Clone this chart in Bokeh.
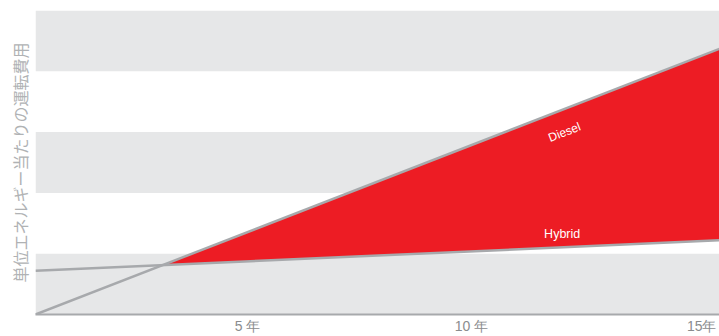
from bokeh.plotting import figure
from bokeh.models import FixedTicker, Range1d
from bokeh.core.properties import value
from bokeh.embed import file_html
from bokeh.resources import INLINE
import math

# operating cost per unit of energy over years of service
years = [0, 15]
diesel_cost = [0.0, 4.37]
hybrid_cost = [0.72, 1.22]

# alternating background bands
band_bottom = [0, 2, 4]
band_top = [1, 3, 5]

tick_years = [5, 10, 15]
tick_labels = ["5 年", "10 年", "15年"]

W, H = 719, 336
LEFT, TOP, BOTTOM = 35, 10, 22
X_MAX, Y_MAX = 15, 5

p = figure(width=W, height=H, output_backend="svg", toolbar_location=None,
           x_range=Range1d(0, X_MAX), y_range=Range1d(0, Y_MAX),
           min_border_left=LEFT, min_border_right=0, min_border_top=TOP,
           min_border_bottom=BOTTOM)
p.outline_line_color = None
p.xgrid.visible = False
p.ygrid.visible = False
p.background_fill_color = "white"

p.quad(left=0, right=X_MAX, bottom=band_bottom, top=band_top,
       fill_color="#e6e7e8", line_color=None)

# shaded gap where diesel costs exceed hybrid
d_slope = (diesel_cost[1] - diesel_cost[0]) / (years[1] - years[0])
h_slope = (hybrid_cost[1] - hybrid_cost[0]) / (years[1] - years[0])
x_cross = (hybrid_cost[0] - diesel_cost[0]) / (d_slope - h_slope)
y_cross = diesel_cost[0] + d_slope * x_cross
p.varea(x=[x_cross, years[1]], y1=[y_cross, hybrid_cost[1]], y2=[y_cross, diesel_cost[1]],
        fill_color="#ed1c24")

p.line(years, hybrid_cost, line_color="#a7a9ac", line_width=2.5)
p.line(years, diesel_cost, line_color="#a7a9ac", line_width=2.5)

# line labels
px_per_x = (W - LEFT) / X_MAX
px_per_y = (H - TOP - BOTTOM) / Y_MAX
ang = math.atan(d_slope * px_per_y / px_per_x)
lx = 11.6
p.text(x=[lx], y=[d_slope * lx - 0.38], text=["Diesel"], angle=ang,
       text_color="white", text_font=value("Liberation Sans"), text_font_size="12px",
       text_align="center", text_baseline="middle")
p.text(x=[11.55], y=[hybrid_cost[0] + h_slope * 11.55 + 0.22], text=["Hybrid"],
       text_color="white", text_font=value("Liberation Sans"), text_font_size="12.5px",
       text_align="center", text_baseline="middle")

# year labels end at their tick: shift each centred label left by half its width
label_shift_px = [16, 20, 18]
tick_pos = [round(t - s / px_per_x, 2) for t, s in zip(tick_years, label_shift_px)]

xa = p.xaxis[0]
xa.ticker = FixedTicker(ticks=tick_pos)
xa.major_label_overrides = {t: l for t, l in zip(tick_pos, tick_labels)}
xa.major_label_text_font = "Liberation Sans"
xa.major_label_text_font_size = "14px"
xa.major_label_text_color = "#8a8c8e"
xa.major_label_standoff = 3
xa.major_tick_out = 0
xa.major_tick_in = 0
xa.major_tick_line_color = None
xa.minor_tick_line_color = None
xa.axis_line_color = "#a7a9ac"
xa.axis_line_width = 2

ya = p.yaxis[0]
ya.ticker = FixedTicker(ticks=[])
ya.axis_label = "単位エネルギー当たりの運転費用"
ya.axis_label_text_font = "Noto Sans CJK JP"
ya.axis_label_text_font_size = "16px"
ya.axis_label_text_font_style = "normal"
ya.axis_label_text_color = "#b0b2b4"
ya.axis_label_standoff = 4
ya.major_tick_line_color = None
ya.minor_tick_line_color = None
ya.axis_line_color = None

open("out.html", "w").write(file_html(p, INLINE))
